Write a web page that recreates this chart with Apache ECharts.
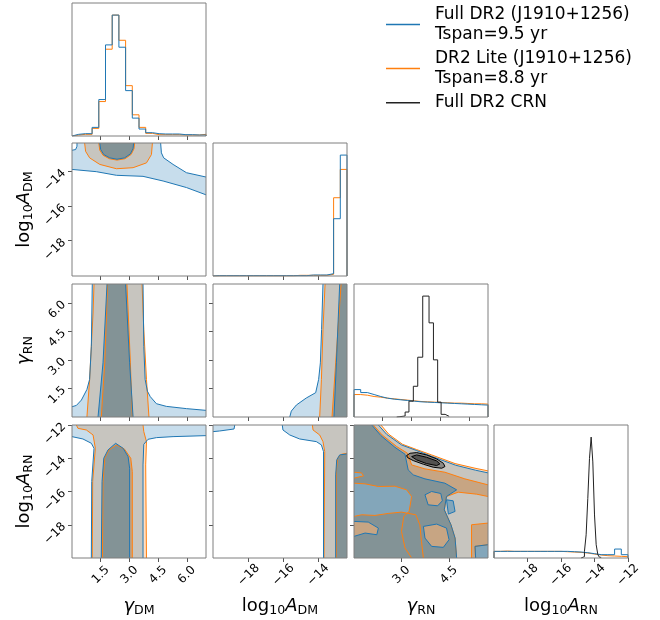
<!DOCTYPE html>
<html><head><meta charset="utf-8">
<script src="https://cdn.jsdelivr.net/npm/echarts@6/dist/echarts.min.js"></script>
<style>html,body{margin:0;padding:0;background:#fff}#c{width:660px;height:620px}</style>
</head><body><div id="c"></div>
<script>
// ---------- axis ranges and ticks ----------
const rangeGammaDM = [0, 7];
const rangeAmpDM = [-20.05, -12.35];
const rangeGammaRN = [0, 7];
const rangeGammaRNcontour = [1.5, 5.73];
const rangeAmpRN = [-20, -12];
const ticksGammaDM = [1.5, 3.0, 4.5, 6.0];
const ticksAmpDM = [-18, -16, -14];
const ticksGammaRN = [1.5, 3.0, 4.5, 6.0];
const ticksGammaRNcontour = [3.0, 4.5];
const ticksAmpRN = [-18, -16, -14, -12];

// ---------- legend names ----------
const nameFull = 'Full DR2 (J1910+1256)\nTspan=9.5 yr';
const nameLite = 'DR2 Lite (J1910+1256)\nTspan=8.8 yr';
const nameCRN = 'Full DR2 CRN';

// ---------- 1D histograms (20 bins over the axis range) ----------
const histGammaDM_full = [5,7,7,26,110,275,365,268,137,54,21,10,7,6,6,6,4,4,3,3];
const histGammaDM_lite = [3,5,5,23,104,262,365,289,152,64,26,8,4,4,4,4,3,3,3,5];
const histAmpDM_full = [1,1,1,1,1,1,1,1,1,1,1,1,1,1,3,3,3,7,172,363];
const histAmpDM_lite = [0.5,0.5,0.5,0.5,0.5,0.5,0.5,0.5,0.5,0.5,0.5,0.5,2,2,2,2,2,5,235,320];
const histGammaRN_full = [83,74,68,62,57,54,52,50,48,46,45,44,43,42,41,40,39,38,37,36];
const histGammaRN_lite = [68,66,62,60,57,55,53,51,49,47,46,45,44,43,42,42,41,40,40,39];
const histAmpRN_full = [20,20,20,20,20,20,20,20,20,20,20,19,18,16,13,10,10,10,27,10];
const histAmpRN_lite = [20,21,20,20,20,20,20,20,20,20,19,18,17,15,12,9,7,6,5,4];
// CRN histograms (own bin edges)
const crnGammaRN_edges = [2.23,2.40,2.67,2.87,3.10,3.33,3.59,3.92,4.15,4.37,4.55,4.76,4.97];
const crnGammaRN_hist = [1,3,15,48,93,181,366,285,173,45,8,2];
const crnAmpRN_edges = [-14.8,-14.7,-14.6,-14.5,-14.4,-14.3,-14.2,-14.1,-14.0,-13.9,-13.8,-13.7,-13.6];
const crnAmpRN_hist = [1,4,20,70,180,300,365,290,130,40,10,2];

// ---------- 2D credible regions (vertices in data units) ----------
// gamma_DM vs log10 A_DM
const p10_full1 = [[0.26,-12.35],[4.63,-12.35],[4.67,-12.92],[4.79,-13.21],[5.28,-13.59],[5.98,-14.07],[7,-14.32],[7,-15.35],[5.98,-14.93],[4.76,-14.55],[3.71,-14.28],[2.32,-14.22],[1.27,-14.01],[0,-13.88],[0,-12.77],[0.19,-12.73],[0.26,-12.54]];
const p10_full2 = [[1.45,-12.35],[1.50,-12.73],[1.66,-13.02],[1.97,-13.21],[2.35,-13.29],[2.75,-13.21],[3.05,-12.98],[3.19,-12.67],[3.22,-12.35]];
const p10_lite1 = [[0.66,-12.35],[0.71,-12.83],[0.92,-13.21],[1.45,-13.59],[2.32,-13.84],[3.19,-13.78],[3.89,-13.5],[4.15,-13.02],[4.20,-12.35]];
const p10_lite2 = [[1.40,-12.35],[1.45,-12.76],[1.62,-13.06],[1.95,-13.26],[2.35,-13.34],[2.77,-13.26],[3.09,-13.01],[3.24,-12.68],[3.27,-12.35]];
// gamma_DM vs gamma_RN
const p20_full1 = [[0,0],[0,0.54],[0.23,0.61],[0.49,0.89],[0.78,1.45],[0.92,1.98],[1.01,3.72],[1.06,7],[3.71,7],[3.75,3.72],[3.82,1.98],[3.94,1.36],[4.09,1.07],[4.41,0.7],[4.93,0.56],[5.98,0.44],[7,0.35],[7,0]];
const p20_full2 = [[1.36,0],[1.62,2.85],[1.83,7],[2.80,7],[3.01,2.85],[3.19,0]];
const p20_lite1 = [[0.78,0],[0.92,1.98],[1.10,5.47],[1.15,7],[3.66,7],[3.75,4.6],[3.89,1.98],[4.02,0]];
const p20_lite2 = [[1.53,0],[1.71,2.85],[1.86,7],[2.87,7],[3.05,2.85],[3.15,0]];
// log10 A_DM vs gamma_RN
const p21_full1 = [[-15.64,0],[-15.55,0.31],[-15.26,0.63],[-14.69,1.0],[-14.15,1.28],[-13.98,1.98],[-13.88,2.85],[-13.81,4.6],[-13.73,7],[-12.35,7],[-12.35,0]];
const p21_full2 = [[-13.10,0],[-12.96,2.85],[-12.77,7],[-12.35,7],[-12.35,0]];
const p21_lite1 = [[-13.92,0],[-13.82,1.98],[-13.73,4.6],[-13.61,7],[-12.35,7],[-12.35,0]];
const p21_lite2 = [[-13.21,0],[-13.0,2.85],[-12.69,7],[-12.35,7],[-12.35,0]];
// gamma_DM vs log10 A_RN
const p30_full1 = [[0,-12],[7,-12],[7,-12.64],[5.28,-12.7],[4.41,-12.76],[3.97,-12.86],[3.75,-13.16],[3.71,-14.4],[3.71,-20],[1.01,-20],[1.03,-15.4],[1.15,-13.4],[1.01,-13.1],[0.57,-12.84],[0,-12.7]];
const p30_full2 = [[1.53,-20],[1.57,-15.4],[1.66,-14.0],[1.88,-13.5],[2.28,-13.1],[2.67,-13.4],[2.93,-13.9],[3.01,-14.6],[3.01,-20]];
const p30_lite1 = [[0.23,-12],[0.31,-12.2],[0.75,-12.3],[1.10,-12.6],[1.22,-13.4],[1.08,-15.4],[1.06,-20],[3.89,-20],[3.85,-14.4],[3.89,-13.0],[3.75,-12.4],[3.71,-12]];
const p30_lite2 = [[1.59,-20],[1.62,-15.4],[1.71,-14.0],[1.93,-13.5],[2.32,-13.2],[2.75,-13.46],[3.07,-14.0],[3.15,-14.8],[3.15,-20]];
// log10 A_DM vs log10 A_RN
const p31_full1a = [[-20.05,-12],[-18.80,-12],[-18.84,-12.24],[-19.67,-12.36],[-20.05,-12.4]];
const p31_full1b = [[-16.07,-12],[-16.03,-12.3],[-15.64,-12.6],[-15.07,-12.84],[-14.11,-13.0],[-13.82,-13.2],[-13.70,-13.6],[-13.70,-20],[-12.35,-20],[-12.35,-12]];
const p31_full2 = [[-13.0,-20],[-13.0,-15.0],[-12.94,-14.1],[-12.77,-13.8],[-12.35,-13.74],[-12.35,-20]];
const p31_lite1 = [[-14.34,-12],[-14.30,-12.3],[-13.92,-12.6],[-13.73,-13.0],[-13.63,-13.6],[-13.67,-20],[-12.35,-20],[-12.35,-12]];
const p31_lite2 = [[-12.96,-20],[-12.96,-14.8],[-12.89,-14.0],[-12.67,-13.76],[-12.35,-13.7],[-12.35,-20]];
// gamma_RN vs log10 A_RN
const p32_full1 = [[1.5,-12],[2.27,-12],[2.53,-12.56],[3.0,-13.2],[3.48,-13.54],[3.97,-13.9],[4.71,-14.42],[5.34,-14.72],[5.73,-14.88],[5.73,-20],[1.5,-20]];
const p32_lite1 = [[1.5,-12],[2.35,-12],[2.60,-12.56],[3.03,-13.16],[3.48,-13.48],[3.95,-13.8],[4.69,-14.32],[5.32,-14.6],[5.73,-14.76],[5.73,-20],[1.5,-20]];
const p32_lite2a = [[1.5,-12],[2.11,-12],[2.39,-12.6],[2.85,-13.3],[3.19,-13.7],[3.32,-14.4],[3.74,-14.64],[4.37,-14.84],[5.0,-15.24],[5.73,-15.6],[5.73,-16.3],[5.37,-16.16],[4.79,-16.04],[4.42,-16.3],[4.35,-17.1],[4.56,-18.0],[4.69,-18.8],[4.74,-20],[1.5,-20]];
const p32_lite2b = [[5.21,-18.0],[5.73,-17.9],[5.73,-19.2],[5.32,-19.3],[5.34,-20],[5.21,-20]];
const p32_lite2hole1 = [[1.5,-15.5],[1.85,-15.54],[2.27,-15.7],[2.79,-15.68],[3.16,-15.9],[3.32,-16.3],[3.24,-17.2],[3.07,-17.5],[3.0,-18.4],[3.11,-19.4],[3.32,-20],[3.69,-20],[3.63,-19.0],[3.58,-18.0],[3.45,-17.4],[3.0,-17.24],[2.58,-17.32],[2.16,-17.44],[1.74,-17.4],[1.5,-17.5]];
const p32_lite2hole2 = [[1.5,-14.84],[1.74,-14.88],[1.80,-15.06],[1.5,-15.2]];
const p32_full2a = [[1.5,-12],[2.06,-12],[2.35,-12.64],[2.79,-13.34],[3.11,-13.76],[3.21,-14.7],[3.37,-15.0],[3.74,-15.24],[4.37,-15.5],[4.74,-15.9],[4.42,-16.3],[4.35,-17.1],[4.56,-18.0],[4.69,-18.8],[4.74,-20],[1.5,-20]];
const p32_full2b = [[5.32,-19.3],[5.73,-19.2],[5.73,-20],[5.34,-20]];
const p32_full2c = [[4.42,-16.5],[4.63,-16.56],[4.69,-17.2],[4.48,-17.36]];
const p32_full2hole1 = [[3.74,-16.2],[3.95,-16.0],[4.24,-16.12],[4.29,-16.56],[4.14,-16.86],[3.84,-16.8]];
const p32_full2hole2 = [[1.5,-17.8],[1.95,-17.84],[2.27,-18.2],[2.22,-18.6],[1.85,-18.5],[1.5,-18.7]];
const p32_full2hole3 = [[3.69,-18.1],[4.11,-17.96],[4.42,-18.2],[4.5,-18.9],[4.32,-19.36],[3.95,-19.3],[3.74,-18.8]];
const p32_crn1 = [[3.16,-13.84],[3.27,-13.70],[3.48,-13.66],[3.79,-13.80],[4.11,-14.04],[4.32,-14.30],[4.37,-14.50],[4.27,-14.60],[4.00,-14.54],[3.69,-14.36],[3.37,-14.14],[3.19,-13.96]];
const p32_crn2 = [[3.32,-13.90],[3.48,-13.80],[3.79,-13.94],[4.11,-14.16],[4.21,-14.34],[4.11,-14.44],[3.79,-14.32],[3.48,-14.10]];

// ---------- styling ----------
const C0 = '#1f77b4', C1 = '#ff7f0e', CK = '#222222';
const fillFull1 = 'rgba(31,119,180,0.25)', fillFull2 = 'rgba(31,119,180,0.40)';
const fillLite1 = 'rgba(255,127,14,0.25)', fillLite2 = 'rgba(255,127,14,0.44)';
const FONT = 'DejaVu Sans';
const colLeft = [72, 213, 354, 494], rowTop = [3, 143, 284, 425], PW = 134, PH = 133;

const fmtG = v => v.toFixed(1);
const fmtA = v => (v < 0 ? '\u2212' : '') + Math.abs(v).toFixed(0);
const nameGammaDM = '{i|γ}{s|DM}', nameAmpDM = '{n|log}{s|10}{i|A}{s|DM}';
const nameGammaRN = '{i|γ}{s|RN}', nameAmpRN = '{n|log}{s|10}{i|A}{s|RN}';
const nameStyle = {fontFamily: FONT, fontSize: 18, color: '#000',
  rich: {n: {fontFamily: FONT, fontSize: 18, lineHeight: 22, color: '#000'},
         i: {fontFamily: FONT, fontSize: 18, fontStyle: 'italic', lineHeight: 22, color: '#000'},
         s: {fontFamily: FONT, fontSize: 12.6, verticalAlign: 'bottom', lineHeight: 12, color: '#000'}}};

const colSpec = [
  {range: rangeGammaDM, ticks: ticksGammaDM, fmt: fmtG, name: nameGammaDM},
  {range: rangeAmpDM, ticks: ticksAmpDM, fmt: fmtA, name: nameAmpDM},
  {range: rangeGammaRN, ticks: ticksGammaRN, fmt: fmtG, name: nameGammaRN},
  {range: rangeAmpRN, ticks: ticksAmpRN, fmt: fmtA, name: nameAmpRN}];
const colSpecContour = {range: rangeGammaRNcontour, ticks: ticksGammaRNcontour, fmt: fmtG, name: nameGammaRN};
const rowSpec = colSpec; // row r uses parameter r on y

function binEdges(range, n) { const w = (range[1]-range[0])/n; const e = []; for (let i=0;i<=n;i++) e.push(range[0]+i*w); return e; }
function stepPts(edges, h) {
  const pts = [[edges[0], 0]];
  for (let i=0;i<h.length;i++) { pts.push([edges[i], h[i]]); pts.push([edges[i+1], h[i]]); }
  pts.push([edges[h.length], 0]);
  return pts;
}

// ---------- panels ----------
const panels = [
  {r:0,c:0,hist:[{e:binEdges(rangeGammaDM,20),h:histGammaDM_lite,col:C1,name:nameLite},{e:binEdges(rangeGammaDM,20),h:histGammaDM_full,col:C0,name:nameFull}]},
  {r:1,c:0,layers:[{rings:[p10_lite1],fill:fillLite1,stroke:C1},{rings:[p10_lite2],fill:fillLite2,stroke:C1},{rings:[p10_full1],fill:fillFull1,stroke:C0},{rings:[p10_full2],fill:fillFull2,stroke:C0}]},
  {r:1,c:1,hist:[{e:binEdges(rangeAmpDM,20),h:histAmpDM_lite,col:C1,name:nameLite},{e:binEdges(rangeAmpDM,20),h:histAmpDM_full,col:C0,name:nameFull}]},
  {r:2,c:0,layers:[{rings:[p20_lite1],fill:fillLite1,stroke:C1},{rings:[p20_lite2],fill:fillLite2,stroke:C1},{rings:[p20_full1],fill:fillFull1,stroke:C0},{rings:[p20_full2],fill:fillFull2,stroke:C0}]},
  {r:2,c:1,layers:[{rings:[p21_lite1],fill:fillLite1,stroke:C1},{rings:[p21_lite2],fill:fillLite2,stroke:C1},{rings:[p21_full1],fill:fillFull1,stroke:C0},{rings:[p21_full2],fill:fillFull2,stroke:C0}]},
  {r:2,c:2,hist:[{e:binEdges(rangeGammaRN,20),h:histGammaRN_lite,col:C1,name:nameLite},{e:binEdges(rangeGammaRN,20),h:histGammaRN_full,col:C0,name:nameFull},{e:crnGammaRN_edges,h:crnGammaRN_hist,col:CK,name:nameCRN}]},
  {r:3,c:0,layers:[{rings:[p30_lite1],fill:fillLite1,stroke:C1},{rings:[p30_lite2],fill:fillLite2,stroke:C1},{rings:[p30_full1],fill:fillFull1,stroke:C0},{rings:[p30_full2],fill:fillFull2,stroke:C0}]},
  {r:3,c:1,layers:[{rings:[p31_lite1],fill:fillLite1,stroke:C1},{rings:[p31_lite2],fill:fillLite2,stroke:C1},{rings:[p31_full1a,p31_full1b],fill:fillFull1,stroke:C0},{rings:[p31_full2],fill:fillFull2,stroke:C0}]},
  {r:3,c:2,layers:[{rings:[p32_lite1],fill:fillLite1,stroke:C1},
                   {rings:[p32_lite2a,p32_lite2b],holes:[p32_lite2hole1,p32_lite2hole2],fill:fillLite2,stroke:C1},
                   {rings:[p32_full1],fill:fillFull1,stroke:C0},
                   {rings:[p32_full2a,p32_full2b,p32_full2c],holes:[p32_full2hole1,p32_full2hole2,p32_full2hole3],fill:fillFull2,stroke:C0},
                   {rings:[p32_crn1],fill:'rgba(0,0,0,0.30)',stroke:'#000'},
                   {rings:[p32_crn2],fill:'rgba(0,0,0,0.40)',stroke:'#000'}]},
  {r:3,c:3,hist:[{e:binEdges(rangeAmpRN,20),h:histAmpRN_lite,col:C1,name:nameLite},{e:binEdges(rangeAmpRN,20),h:histAmpRN_full,col:C0,name:nameFull},{e:crnAmpRN_edges,h:crnAmpRN_hist,col:CK,name:nameCRN}]}
];

function ringFillD(ring, api, hole) {
  let pts = ring.map(p => api.coord(p));
  let a = 0;
  for (let i=0;i<pts.length;i++) { const p=pts[i], q=pts[(i+1)%pts.length]; a += p[0]*q[1]-q[0]*p[1]; }
  if ((a < 0) !== !!hole) pts = pts.slice().reverse();
  return 'M' + pts.map(p => p[0].toFixed(2)+' '+p[1].toFixed(2)).join('L') + 'Z';
}
function ringStrokeD(ring, api, xr, yr) {
  const eps = 1e-6, n = ring.length; let d = '', pen = -1;
  const same = (a,b,v) => Math.abs(a-v)<eps && Math.abs(b-v)<eps;
  for (let i=0;i<n;i++) {
    const j = (i+1)%n, p = ring[i], q = ring[j];
    if (same(p[0],q[0],xr[0]) || same(p[0],q[0],xr[1]) || same(p[1],q[1],yr[0]) || same(p[1],q[1],yr[1])) { pen = -1; continue; }
    const P = api.coord(p), Q = api.coord(q);
    if (pen !== i) d += 'M' + P[0].toFixed(2) + ' ' + P[1].toFixed(2);
    d += 'L' + Q[0].toFixed(2) + ' ' + Q[1].toFixed(2);
    pen = j;
  }
  return d;
}

const grids = [], xAxes = [], yAxes = [], series = [];
panels.forEach((p, idx) => {
  grids.push({left: colLeft[p.c], top: rowTop[p.r], width: PW, height: PH, show: true,
    borderColor: '#7f7f7f', borderWidth: 1, backgroundColor: 'transparent', z: 10});
  const xs = (p.r === 3 && p.c === 2) ? colSpecContour : colSpec[p.c];
  const bottom = p.r === 3;
  xAxes.push({type: 'value', gridIndex: idx, min: xs.range[0], max: xs.range[1],
    axisLine: {show: false}, splitLine: {show: false},
    axisTick: {show: true, customValues: xs.ticks, length: 4, lineStyle: {color: '#555', width: 1}},
    axisLabel: {show: bottom, customValues: xs.ticks, rotate: 45, align: 'center', verticalAlign: 'middle', margin: 17,
      fontSize: 12, fontFamily: FONT, color: '#000', formatter: xs.fmt},
    name: bottom ? xs.name : '', nameLocation: 'middle', nameGap: 37, nameTextStyle: nameStyle});
  if (p.hist) {
    let m = 0; p.hist.forEach(h => h.h.forEach(v => { if (v > m) m = v; }));
    yAxes.push({type: 'value', gridIndex: idx, min: 0, max: 1.1*m, show: false});
    p.hist.forEach(h => series.push({type: 'line', name: h.name, xAxisIndex: idx, yAxisIndex: idx,
      data: stepPts(h.e, h.h), showSymbol: false, symbol: 'none', silent: true, clip: true,
      lineStyle: {color: h.col, width: 1}, itemStyle: {color: h.col}, z: 3}));
  } else {
    const ys = rowSpec[p.r];
    const left = p.c === 0;
    yAxes.push({type: 'value', gridIndex: idx, min: ys.range[0], max: ys.range[1],
      axisLine: {show: false}, splitLine: {show: false},
      axisTick: {show: true, customValues: ys.ticks, length: 4, lineStyle: {color: '#555', width: 1}},
      axisLabel: {show: left, customValues: ys.ticks, rotate: 45, margin: 8,
        fontSize: 12, fontFamily: FONT, color: '#000', formatter: ys.fmt},
      name: left ? ys.name : '', nameLocation: 'middle', nameGap: 37, nameTextStyle: nameStyle});
    const xr = xs.range, yr = ys.range, layers = p.layers;
    series.push({type: 'custom', xAxisIndex: idx, yAxisIndex: idx, clip: true, silent: true, z: 2,
      data: [0],
      renderItem: function (params, api) {
        const children = [];
        layers.forEach(L => {
          let d = '';
          L.rings.forEach(r => { d += ringFillD(r, api, false); });
          (L.holes || []).forEach(r => { d += ringFillD(r, api, true); });
          children.push({type: 'path', shape: {pathData: d}, style: {fill: L.fill, stroke: null}});
        });
        layers.forEach(L => {
          let d = '';
          L.rings.concat(L.holes || []).forEach(r => { d += ringStrokeD(r, api, xr, yr); });
          if (d) children.push({type: 'path', shape: {pathData: d}, style: {fill: 'none', stroke: L.stroke, lineWidth: 1}});
        });
        return {type: 'group', children: children};
      }});
  }
});

const chart = echarts.init(document.getElementById('c'), null, {renderer: 'canvas'});
chart.setOption({
  animation: false,
  backgroundColor: '#fff',
  grid: grids, xAxis: xAxes, yAxis: yAxes, series: series,
  legend: {orient: 'vertical', left: 386, top: 5, padding: 0, itemGap: 5,
    itemWidth: 34, itemHeight: 1.5, selectedMode: false,
    formatter: n => '{t|' + n + '}',
    textStyle: {fontFamily: FONT, fontSize: 17, color: '#000', lineHeight: 19.5,
      rich: {t: {fontFamily: FONT, fontSize: 17, lineHeight: 19.5, padding: [0,0,0,10], color: '#000'}}},
    data: [{name: nameFull, icon: 'rect'}, {name: nameLite, icon: 'rect'}, {name: nameCRN, icon: 'rect'}]}
});
</script></body></html>
